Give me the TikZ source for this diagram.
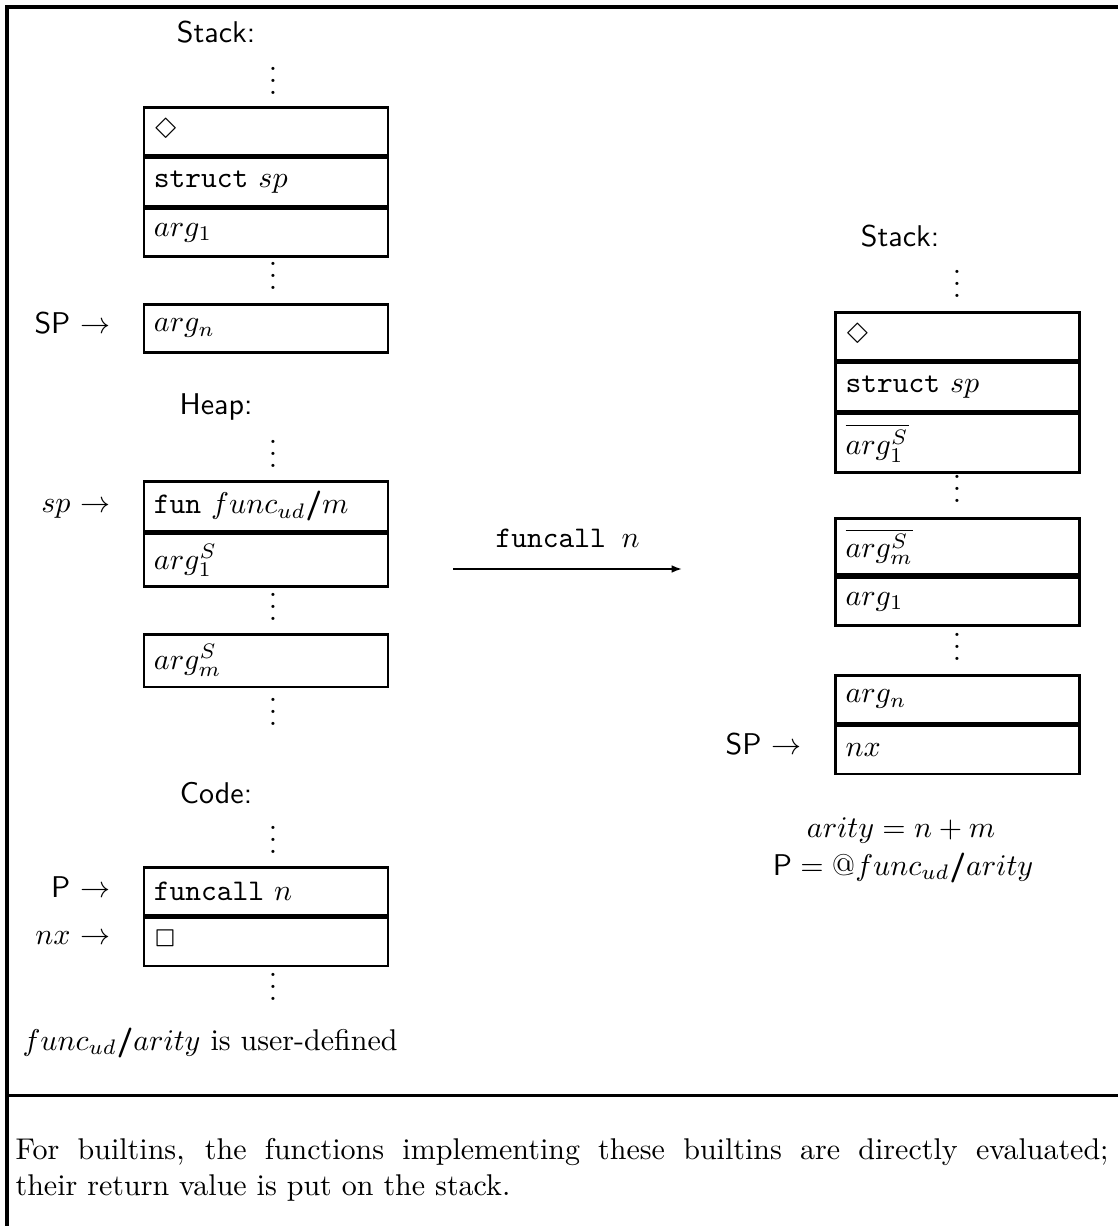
\documentclass[tikz,border=0pt]{standalone}
\usepackage{latexsym}
\usetikzlibrary{arrows.meta}
\newcommand{\sfsl}{\textsf{\bfseries /}}
\newcommand{\myvdots}{\vbox{\baselineskip4pt\lineskiplimit0pt\hbox{.}\hbox{.}\hbox{.}}}
\begin{document}
\begin{tikzpicture}[x=0.33333pt,y=-0.33333pt]
\tikzset{
  cell/.style={draw, line width=0.9pt, minimum height=16pt, text width=74.67pt,
    inner xsep=3.33pt, inner ysep=3.33pt, align=left, anchor=north},
  vd/.style={inner sep=0pt, anchor=base},
  lbl/.style={inner sep=0pt, anchor=base east},
  head/.style={inner sep=0pt, anchor=base, font=\sffamily},
  frameline/.style={line width=1.2pt},
}
\useasboundingbox (0,0) rectangle (1118,1226);
% frame
\draw[frameline] (7,1226) -- (7,7) -- (1118,7);
\draw[line width=1pt] (7,1095) -- (1118,1095);

% ---------- left: stack ----------
\node[head] (stackL) at (216,43) {Stack:};
\node[vd] (dL1) at (273,95) {\myvdots};
\node[cell] (s1) at (266,106) {$\Diamond$};
\node[cell] (s2) at (s1.south) {\texttt{struct} $sp$};
\node[cell] (s3) at (s2.south) {$arg_1$};
\node[vd] (dL2) at (273,290) {\myvdots};
\node[cell] (s4) at (266,303) {$arg_n$};
\node[lbl] (spL) at (111,334) {\textsf{SP} $\rightarrow$};

% ---------- left: heap ----------
\node[head] (heap) at (216,415) {Heap:};
\node[vd] (dH1) at (273,468) {\myvdots};
\node[cell] (h1) at (266,480) {\texttt{fun} $func_{ud}$\sfsl$m$};
\node[cell] (h2) at (h1.south) {$arg^S_1$};
\node[vd] (dH2) at (273,620) {\myvdots};
\node[cell] (h3) at (266,633) {$arg^S_m$};
\node[vd] (dH3) at (273,725) {\myvdots};
\node[lbl] (spp) at (111,512) {$sp$ $\rightarrow$};

% ---------- left: code ----------
\node[head] (code) at (216,803) {Code:};
\node[vd] (dC1) at (273,853) {\myvdots};
\node[cell] (c1) at (266,866) {\texttt{funcall\ }$n$};
\node[cell] (c2) at (c1.south) {$\Box$};
\node[vd] (dC2) at (273,1000) {\myvdots};
\node[lbl] (pL) at (111,897) {\textsf{P} $\rightarrow$};
\node[lbl] (nxL) at (111,944) {$nx$ $\rightarrow$};

\node[inner sep=0pt, anchor=base west] (udef) at (22,1050)
  {$func_{ud}$\sfsl$arity$ is user-defined};

% ---------- transition arrow ----------
\coordinate (af) at (453,569);
\coordinate (at) at (682,569);
\draw[line width=0.6pt, -{Latex[length=3.5pt,width=2.6pt]}] (af) -- (at)
  node[midway, above=3.5pt] (trans) {\texttt{funcall\ }$n$};

% ---------- right: stack ----------
\node[head] (stackR) at (900,247) {Stack:};
\node[vd] (dR1) at (957,298) {\myvdots};
\node[cell] (r1) at (957.5,311) {$\Diamond$};
\node[cell] (r2) at (r1.south) {\texttt{struct} $sp$};
\node[cell] (r3) at (r2.south) {$\overline{arg^S_1}$};
\node[vd] (dR2) at (957,503) {\myvdots};
\node[cell] (r4) at (957.5,517) {$\overline{arg^S_m}$};
\node[cell] (r5) at (r4.south) {$arg_1$};
\node[vd] (dR3) at (957,660) {\myvdots};
\node[cell] (r6) at (957.5,674) {$arg_n$};
\node[cell] (r7) at (r6.south) {$nx$};
\node[lbl] (spR) at (802,754) {\textsf{SP} $\rightarrow$};

\node[inner sep=0pt, anchor=base] (ar) at (901,837) {$arity = n + m$};
\node[inner sep=0pt, anchor=base] (pr) at (903,875)
  {$\textsf{P} = @func_{ud}\mbox{\sfsl}arity$};

% ---------- bottom note ----------
\node[inner sep=0pt, anchor=north west, text width=364.3pt, align=justify] (note) at (15,1138)
  {For builtins, the functions implementing these builtins are directly evaluated;\linebreak
   their return value is put on the stack.};
\end{tikzpicture}
\end{document}
